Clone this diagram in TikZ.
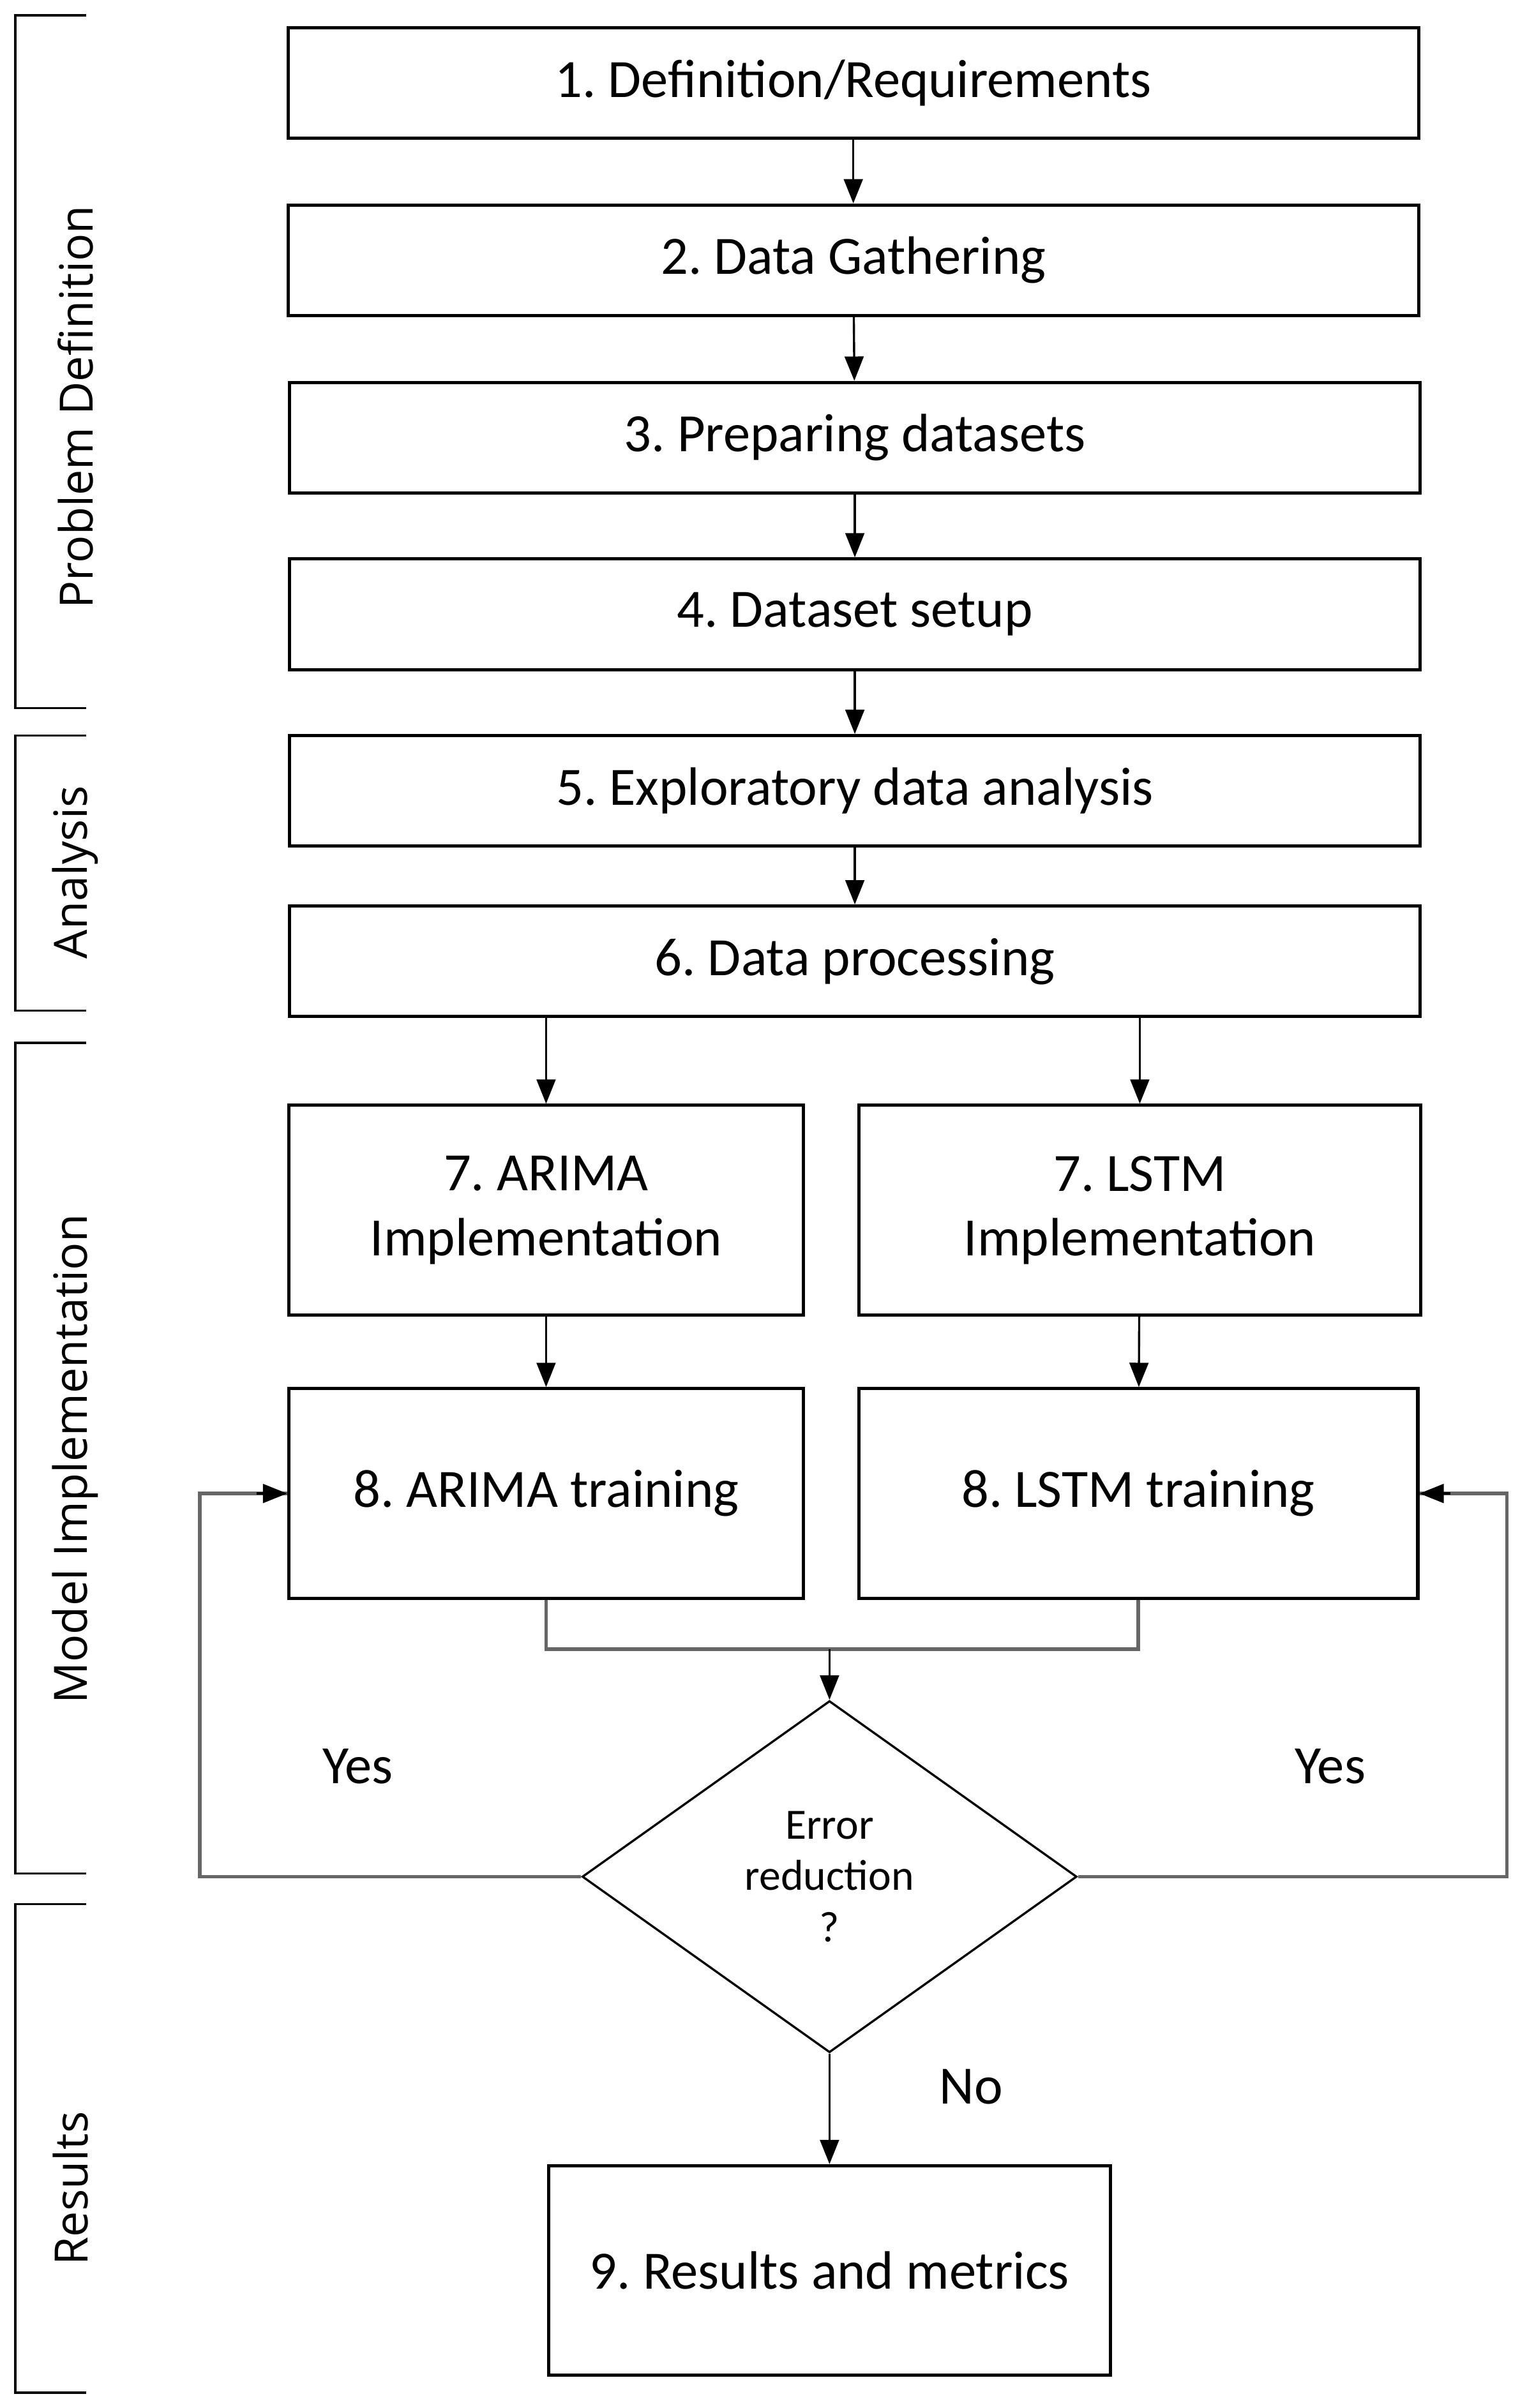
\documentclass[tikz,border=0pt]{standalone}
\usepackage{fontspec}
\setmainfont{Carlito}
\newfontfamily\sidefont{Open Sans}
\usetikzlibrary{calc, positioning}
\usetikzlibrary{arrows.meta}
\usetikzlibrary{shapes.geometric}
\frenchspacing
\def\boxheight{1.44cm}
\tikzset{
    block/.style = {
        draw, rectangle, very thick, align=center, inner sep=0pt,
        font=\fontsize{20}{24}\selectfont
    },
    wideblock/.style = {block, minimum width=14.72cm, minimum height=\boxheight},
    tallblock/.style = {block, minimum height=2.73cm},
    decision/.style = {
        draw, diamond, thick, align=center, inner sep=0pt,
        minimum width=6.44cm, minimum height=4.58cm,
        font=\fontsize{16}{19}\selectfont
    },
    flow/.style = {thick, -{Triangle[width=7pt,length=9pt]}},
    feedback/.style = {line width=1.3pt, black!60},
    bracket/.style = {thick},
    sidelabel/.style = {rotate=90, font=\sidefont\fontsize{17}{20}\selectfont},
    answer/.style = {font=\fontsize{20}{24}\selectfont}
}
\begin{document}
\begin{tikzpicture}
    \useasboundingbox (0,0) rectangle (19.88,-31.36);
    % Place the blocks
    \node [wideblock] (def) at (11.11, -1.08) {1. Definition/Requirements};
    \node [wideblock] (gather) at (11.11, -3.39) {2. Data Gathering};
    \node [wideblock] (prep) at (11.13, -5.70) {3. Preparing datasets};
    \node [wideblock] (setup) at (11.13, -8.00) {4. Dataset setup};
    \node [wideblock] (eda) at (11.13, -10.30) {5. Exploratory data analysis};
    \node [wideblock] (proc) at (11.13, -12.52) {6. Data processing};
    \node [tallblock, minimum width=6.70cm] (arimaimpl) at (7.11, -15.76) {7. ARIMA\\Implementation};
    \node [tallblock, minimum width=7.32cm] (lstmimpl) at (14.84, -15.76) {7. LSTM\\Implementation};
    \node [tallblock, minimum width=6.70cm] (arimatrain) at (7.11, -19.45) {8. ARIMA training};
    \node [tallblock, minimum width=7.28cm] (lstmtrain) at (14.82, -19.45) {8. LSTM training};
    \node [decision] (err) at (10.80, -24.44) {Error\\reduction\\?};
    \node [tallblock, minimum width=7.32cm] (res) at (10.80, -29.57) {9. Results and metrics};

    % Connect the blocks
    \draw[flow] (def) -- (gather);
    \draw[flow] (gather) -- (prep);
    \draw[flow] (prep) -- (setup);
    \draw[flow] (setup) -- (eda);
    \draw[flow] (eda) -- (proc);
    \draw[flow] (arimaimpl.north |- proc.south) -- (arimaimpl.north);
    \draw[flow] (lstmimpl.north |- proc.south) -- (lstmimpl.north);
    \draw[flow] (arimaimpl) -- (arimatrain);
    \draw[flow] (lstmimpl) -- (lstmtrain);
    \draw[feedback] (arimatrain.south) -- ++(0, -0.64) coordinate (m1)
        -- (m1 -| lstmtrain.south) -- (lstmtrain.south);
    \draw[flow] (m1 -| err.north) -- (err.north);
    \draw[flow] (err.south) -- node[answer, right=1.3cm, pos=0.3]{No} (res.north);

    % Feedback loops
    \coordinate (l1) at (2.60, -24.44);
    \coordinate (r1) at (19.62, -24.44);
    \draw[feedback] (err.west) -- (l1) |- (arimatrain.west);
    \draw[flow] ([xshift=-0.4cm] arimatrain.west) -- (arimatrain.west);
    \draw[feedback] (err.east) -- (r1) |- (lstmtrain.east);
    \draw[flow] ([xshift=0.4cm] lstmtrain.east) -- (lstmtrain.east);
    \node[answer] (yesl) at (4.66, -23.0) {Yes};
    \node[answer] (yesr) at (17.32, -23.0) {Yes};

    % Phase brackets
    \draw[bracket] (1.12, -0.20) -- (0.20, -0.20) -- (0.20, -9.22) -- (1.12, -9.22);
    \node[sidelabel] (pdlabel) at (0.98, -5.30) {Problem Definition};
    \draw[bracket] (1.12, -9.58) -- (0.20, -9.58) -- (0.20, -13.16) -- (1.12, -13.16);
    \node[sidelabel] (analabel) at (0.98, -11.36) {Analysis};
    \draw[bracket] (1.12, -13.58) -- (0.20, -13.58) -- (0.20, -24.40) -- (1.12, -24.40);
    \node[sidelabel] (milabel) at (0.98, -19.00) {Model Implementation};
    \draw[bracket] (1.12, -24.80) -- (0.20, -24.80) -- (0.20, -31.16) -- (1.12, -31.16);
    \node[sidelabel] (reslabel) at (0.92, -28.50) {Results};
\end{tikzpicture}
\end{document}
